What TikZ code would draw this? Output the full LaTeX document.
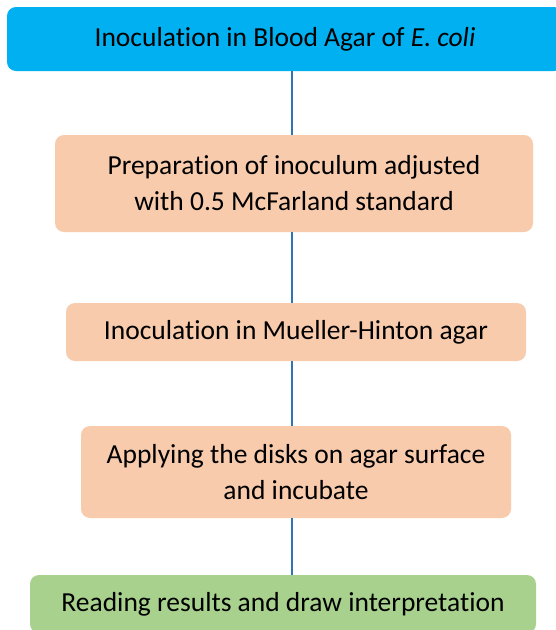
\documentclass[tikz,border=0pt]{standalone}
\usepackage{fontspec}
\setmainfont{Carlito}[Ligatures={NoCommon}]
\definecolor{topblue}{HTML}{00B0F0}
\definecolor{peach}{HTML}{F8CBAD}
\definecolor{leaf}{HTML}{A9D18E}
\definecolor{linkblue}{HTML}{2E75B6}
\tikzset{
  stepbox/.style={rounded corners=9pt, inner sep=0pt, align=center, font=\fontsize{27.5}{36}\selectfont, text=black},
  link/.style={draw=linkblue, line width=2.5pt}
}
\begin{document}
\begin{tikzpicture}[x=1pt,y=-1pt]
\useasboundingbox (0,0) rectangle (556,630);
\clip (0,0) rectangle (556,630);
\coordinate (axis) at (292,0);
\node[stepbox, fill=topblue, minimum width=556pt, minimum height=64pt] (n1) at (285,39) {Inoculation in Blood Agar of \textit{E. coli}};
\node[stepbox, fill=peach, minimum width=478pt, minimum height=97pt] (n2) at (294,183.5) {Preparation of inoculum adjusted\\with 0.5 McFarland standard};
\node[stepbox, fill=peach, minimum width=460pt, minimum height=58pt] (n3) at (296,332) {Inoculation in Mueller-Hinton agar};
\node[stepbox, fill=peach, minimum width=430pt, minimum height=92pt] (n4) at (296,472) {Applying the disks on agar surface\\and incubate};
\node[stepbox, fill=leaf, minimum width=506pt, minimum height=58pt] (n5) at (283,604) {Reading results and draw interpretation};
\draw[link] (n1.south -| axis) -- (n2.north -| axis);
\draw[link] (n2.south -| axis) -- (n3.north -| axis);
\draw[link] (n3.south -| axis) -- (n4.north -| axis);
\draw[link] (n4.south -| axis) -- (n5.north -| axis);
\end{tikzpicture}
\end{document}
